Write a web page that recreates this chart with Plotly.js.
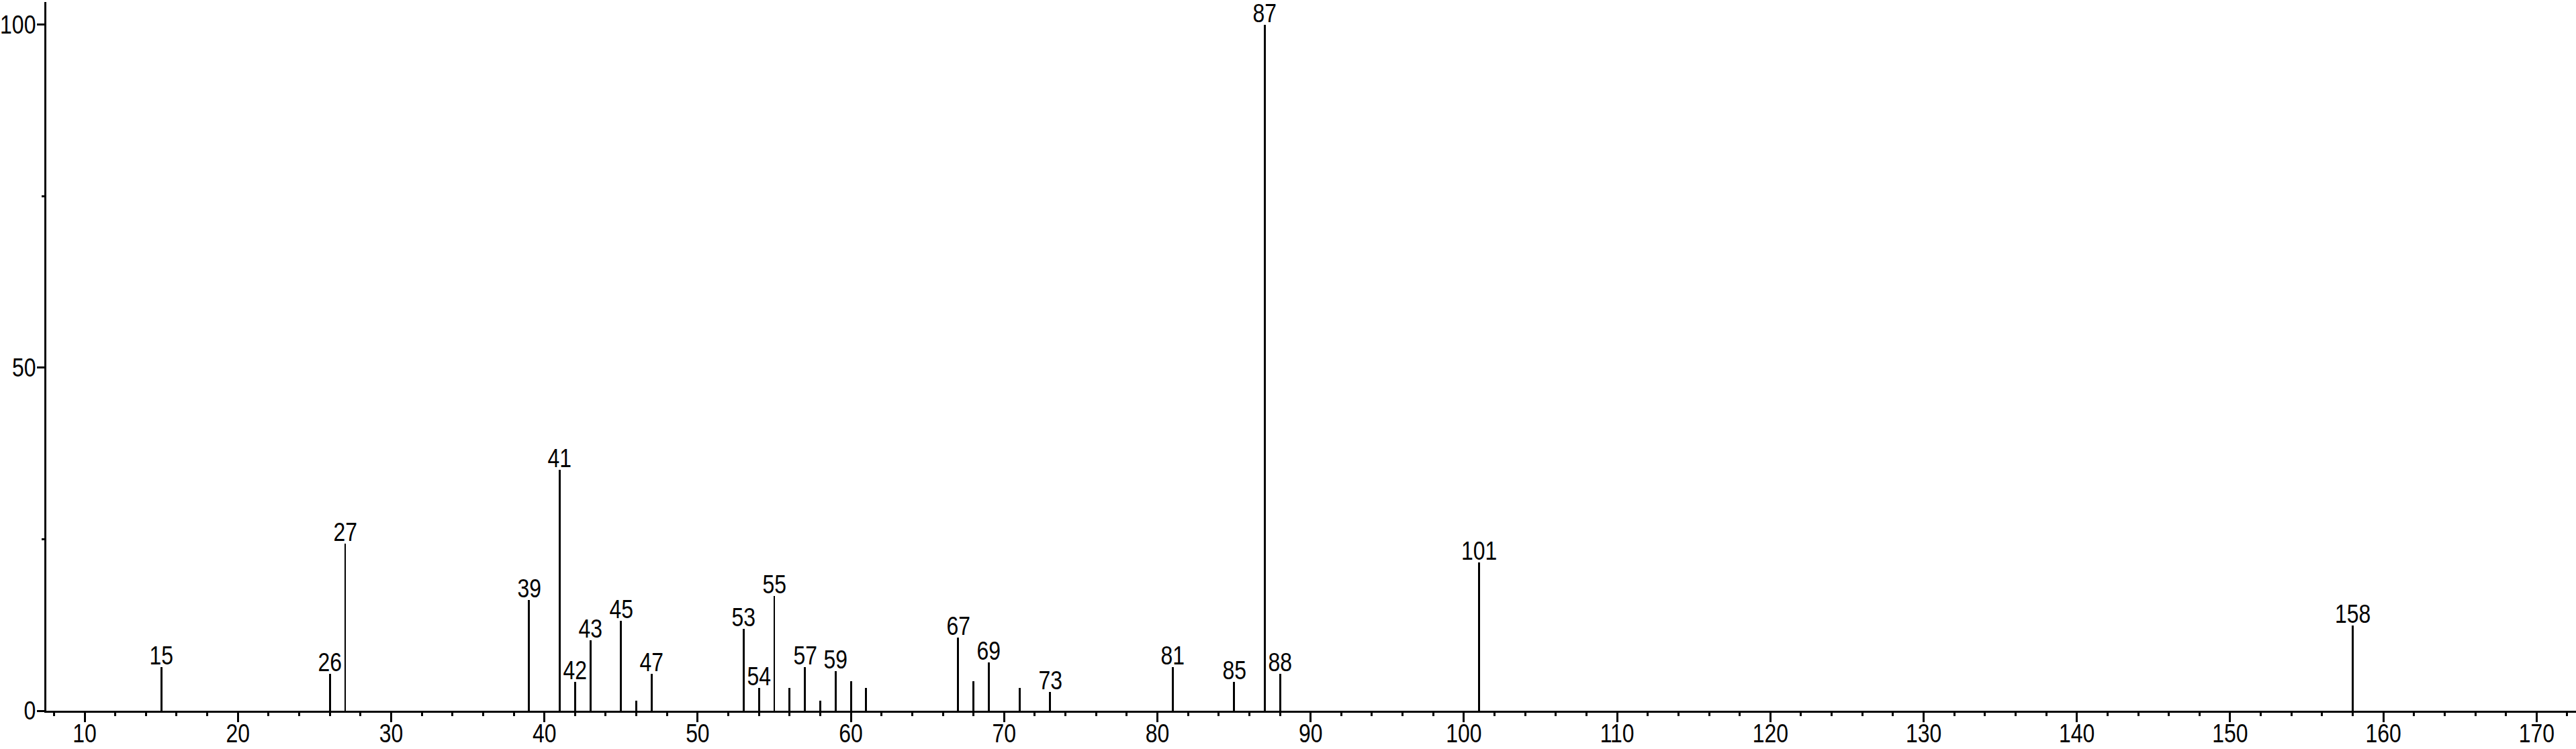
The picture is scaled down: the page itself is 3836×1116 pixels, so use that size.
<!DOCTYPE html>
<html>
<head>
<meta charset="utf-8">
<script src="https://cdn.plot.ly/plotly-3.0.1.min.js"></script>
<style>html,body{margin:0;padding:0;background:#fff;}#chart{width:3836px;height:1116px;}</style>
</head>
<body>
<div id="chart"></div>
<script>
// m/z values of the peaks
const mz = [15, 26, 27, 39, 41, 42, 43, 45, 46, 47, 53, 54, 55, 56, 57, 58, 59, 60, 61, 67, 68, 69, 71, 73, 81, 85, 87, 88, 101, 158];
// relative intensities (%)
const intensity = [6.4, 5.4, 24.4, 16.1, 35.1, 4.2, 10.3, 13.1, 1.5, 5.4, 11.9, 3.3, 16.7, 3.3, 6.4, 1.5, 5.8, 4.3, 3.3, 10.7, 4.3, 7.0, 3.3, 2.7, 6.4, 4.2, 100, 5.4, 21.6, 12.4];
// peaks that carry a label
const labelled = [15, 26, 27, 39, 41, 42, 43, 45, 47, 53, 54, 55, 57, 59, 67, 69, 73, 81, 85, 87, 88, 101, 158];
// axis ticks
const xTicks = [10, 20, 30, 40, 50, 60, 70, 80, 90, 100, 110, 120, 130, 140, 150, 160, 170];
const yTicks = [0, 50, 100];

const FONT = '"Liberation Sans Narrow", "Arial Narrow", "Liberation Sans", Arial, sans-serif';
const FS = 38;

const annotations = labelled.map(m => {
  const i = mz.indexOf(m);
  return {
    x: m, y: intensity[i], xref: 'x', yref: 'y',
    text: String(m), showarrow: false,
    xanchor: 'center', yanchor: 'bottom', yshift: -6,
    font: {family: FONT, size: FS, color: '#000'}
  };
});

const trace = {
  type: 'bar',
  x: mz,
  y: intensity,
  width: 0.13,
  marker: {color: '#000', line: {width: 0}},
  hoverinfo: 'x+y'
};

const layout = {
  width: 3836, height: 1116,
  margin: {l: 69, r: 0, t: 3, b: 57, pad: 0},
  paper_bgcolor: '#fff', plot_bgcolor: '#fff',
  showlegend: false,
  bargap: 0,
  font: {family: FONT, size: FS, color: '#000'},
  xaxis: {
    range: [7.5, 172.57],
    tickvals: xTicks, ticktext: xTicks.map(String),
    ticks: 'outside', ticklen: 14, tickwidth: 3, tickcolor: '#000',
    minor: {dtick: 2, tick0: 0, ticks: 'outside', ticklen: 5, tickwidth: 3, tickcolor: '#000', showgrid: false},
    showline: true, linecolor: '#000', linewidth: 3,
    showgrid: false, zeroline: false,
    ticklabelstandoff: -16,
    tickfont: {family: FONT, size: FS, color: '#000'}
  },
  yaxis: {
    range: [0, 103.3],
    tickvals: yTicks, ticktext: yTicks.map(String),
    ticks: 'outside', ticklen: 11, tickwidth: 3, tickcolor: '#000',
    minor: {dtick: 25, tick0: 0, ticks: 'outside', ticklen: 4, tickwidth: 3, tickcolor: '#000', showgrid: false},
    showline: true, linecolor: '#000', linewidth: 3,
    showgrid: false, zeroline: false,
    ticklabelstandoff: -6,
    tickfont: {family: FONT, size: FS, color: '#000'}
  },
  annotations: annotations
};

// The reference uses a narrow sans face; condense the real text glyphs to match.
function condense() {
  document.querySelectorAll('#chart .xtick text, #chart .ytick text, #chart .annotation-text').forEach(t => {
    const w = t.getComputedTextLength();
    if (w > 0) {
      t.setAttribute('textLength', (w * 0.84).toFixed(1));
      t.setAttribute('lengthAdjust', 'spacingAndGlyphs');
    }
  });
}

Plotly.newPlot('chart', [trace], layout, {staticPlot: true, displayModeBar: false}).then(condense);
</script>
</body>
</html>
